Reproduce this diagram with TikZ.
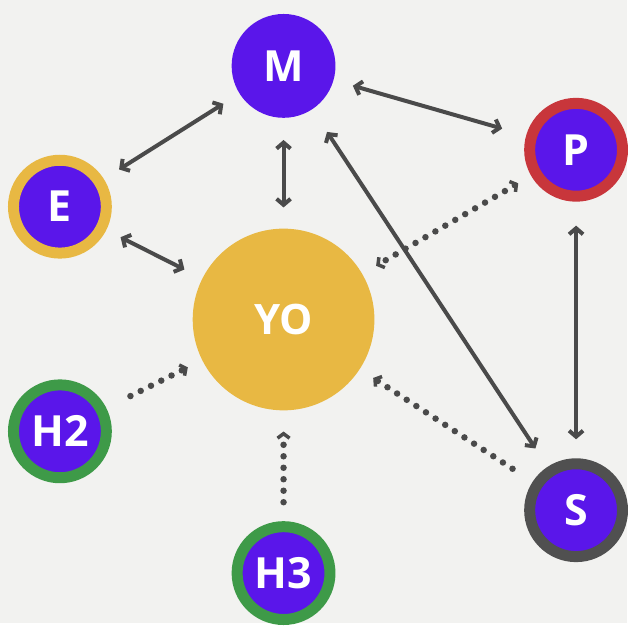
\documentclass[tikz,border=0pt]{standalone}
\usepackage{fontspec}
\setmainfont{Open Sans}
\usetikzlibrary{arrows.meta}
\definecolor{bg}{HTML}{F2F2F0}
\definecolor{purp}{HTML}{5A16EA}
\definecolor{gold}{HTML}{E8B843}
\definecolor{redring}{HTML}{C8363B}
\definecolor{greenring}{HTML}{3E9A48}
\definecolor{grayring}{HTML}{505050}
\definecolor{arrowc}{HTML}{4A4A4A}
\tikzset{
  bubble/.style={circle, inner sep=0pt, fill=purp, text=white,
    font=\fontsize{43}{43}\selectfont\bfseries},
  ringed/.style={bubble, draw=#1, line width=11pt, minimum size=93pt},
  solidtip/.tip={Straight Barb[length=6pt,width=14pt]},
  dottip/.tip={Straight Barb[length=4.5pt,width=12pt,line width=3.5pt]},
  conn/.style={draw=arrowc, line width=4pt, line cap=round, solidtip-solidtip},
  dotconn/.style={draw=arrowc, line width=6.5pt, line cap=round,
    dash pattern=on 0pt off 11.5pt},
}
\begin{document}
\begin{tikzpicture}[x=1pt,y=-1pt]
\fill[bg] (0,0) rectangle (628,624);
\node[bubble, minimum size=104pt] (M) at (284,66) {M};
\node[ringed=gold] (E) at (60,207) {E};
\node[ringed=redring] (P) at (577,150) {P};
\node[circle, inner sep=0pt, fill=gold, minimum size=182pt, text=white,
  font=\fontsize{42}{42}\selectfont\bfseries] (YO) at (284,320) {YO};
\node[ringed=greenring] (H2) at (60,432) {H2};
\node[ringed=greenring] (H3) at (284,574) {H3};
\node[ringed=grayring] (S) at (577,511) {S};

\draw[conn, shorten <=19pt, shorten >=18pt] (M) -- (E);
\draw[conn, shorten <=22pt, shorten >=21pt] (M) -- (YO);
\draw[conn, shorten <=16pt, shorten >=20pt] (E) -- (YO);
\draw[conn, shorten <=20pt, shorten >=25pt] (M) -- (P);
\draw[conn, shorten <=27pt, shorten >=22pt] (M) -- (S);
\draw[conn, shorten <=24pt, shorten >=19pt] (P) -- (S);

\draw[dotconn, dottip-dottip, shorten <=15pt, shorten >=16pt] (P) -- (YO);
\draw[dotconn, -dottip, shorten <=27pt, shorten >=16pt] (H2) -- (YO);
\draw[dotconn, -dottip, shorten <=19pt, shorten >=21pt] (H3) -- (YO);
\draw[dotconn, -dottip, shorten <=24pt, shorten >=16pt] (S) -- (YO);
\end{tikzpicture}
\end{document}
